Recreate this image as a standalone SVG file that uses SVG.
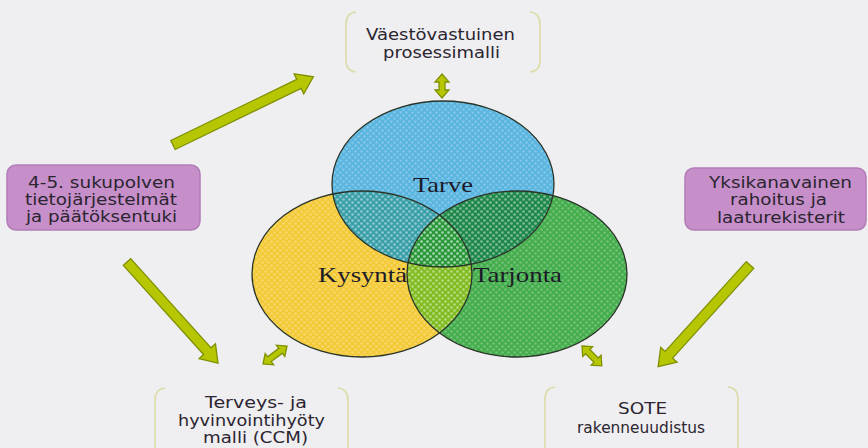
<svg xmlns="http://www.w3.org/2000/svg" width="868" height="448" viewBox="0 0 868 448">
<defs>
<style>
.lbl{font-family:"DejaVu Sans","Verdana",sans-serif;font-size:15px;fill:#2b2530;text-anchor:start}
.venn{font-family:"Liberation Serif","Times New Roman",serif;font-size:21px;fill:#1c1a28}
.box{fill:#c68fc9;stroke:#b27cb6;stroke-width:1.5}
.brk{fill:none;stroke:#dcdcaa;stroke-width:1.6}
.arr{fill:#b6c603;stroke:#7f9000;stroke-width:1.3;stroke-linejoin:miter}
.outl{fill:none;stroke:#2a3528;stroke-width:1.3}
</style>
<clipPath id="cB"><ellipse cx="443" cy="184" rx="111" ry="83"/></clipPath>
<clipPath id="cY"><ellipse cx="362" cy="274" rx="110" ry="83"/></clipPath>
<clipPath id="cG"><ellipse cx="517" cy="274" rx="110" ry="83"/></clipPath>
<pattern id="dots" width="6" height="6" patternUnits="userSpaceOnUse">
<circle cx="1.5" cy="1.5" r="1.3" fill="#ffffff" fill-opacity="0.25"/>
<circle cx="4.5" cy="4.5" r="1.3" fill="#ffffff" fill-opacity="0.25"/>
</pattern>
</defs>
<rect x="0" y="0" width="868" height="448" fill="#efeef0"/>

<g id="venn">
<ellipse cx="362" cy="274" rx="110" ry="83" fill="#f4ca38"/>
<ellipse cx="517" cy="274" rx="110" ry="83" fill="#44ad4c"/>
<ellipse cx="443" cy="184" rx="111" ry="83" fill="#5ab5e0"/>
<g clip-path="url(#cY)"><ellipse cx="443" cy="184" rx="111" ry="83" fill="#389ea8"/></g>
<g clip-path="url(#cY)"><ellipse cx="517" cy="274" rx="110" ry="83" fill="#80bc20"/></g>
<g clip-path="url(#cB)"><ellipse cx="517" cy="274" rx="110" ry="83" fill="#1d8849"/></g>
<g clip-path="url(#cY)"><g clip-path="url(#cB)"><ellipse cx="517" cy="274" rx="110" ry="83" fill="#289839"/></g></g>
<ellipse cx="362" cy="274" rx="110" ry="83" fill="url(#dots)"/>
<ellipse cx="517" cy="274" rx="110" ry="83" fill="url(#dots)"/>
<ellipse cx="443" cy="184" rx="111" ry="83" fill="url(#dots)"/>
<ellipse class="outl" cx="362" cy="274" rx="110" ry="83"/>
<ellipse class="outl" cx="517" cy="274" rx="110" ry="83"/>
<ellipse class="outl" cx="443" cy="184" rx="111" ry="83"/>
<text class="venn" x="413" y="192" textLength="60" lengthAdjust="spacingAndGlyphs">Tarve</text>
<text class="venn" x="318" y="282" textLength="89" lengthAdjust="spacingAndGlyphs">Kysyntä</text>
<text class="venn" x="473" y="282" textLength="89" lengthAdjust="spacingAndGlyphs">Tarjonta</text>
</g>

<g id="node-vaesto">
<path class="brk" d="M356 12 Q346 13 346 24 L346 61 Q346 71 356 72"/>
<path class="brk" d="M530 12 Q540 13 540 24 L540 61 Q540 71 530 72"/>
<text class="lbl" x="366" y="40" textLength="149" lengthAdjust="spacingAndGlyphs">Väestövastuinen</text>
<text class="lbl" x="383" y="58" textLength="117" lengthAdjust="spacingAndGlyphs">prosessimalli</text>
</g>

<g id="node-sukupolven">
<rect class="box" x="7" y="165" width="193" height="65" rx="9"/>
<text class="lbl" x="28" y="188" textLength="147" lengthAdjust="spacingAndGlyphs">4-5. sukupolven</text>
<text class="lbl" x="25" y="205" textLength="152" lengthAdjust="spacingAndGlyphs">tietojärjestelmät</text>
<text class="lbl" x="26" y="222" textLength="151" lengthAdjust="spacingAndGlyphs">ja päätöksentuki</text>
</g>

<g id="node-yksikanava">
<rect class="box" x="685" y="168" width="181" height="62" rx="9"/>
<text class="lbl" x="709" y="188" textLength="143" lengthAdjust="spacingAndGlyphs">Yksikanavainen</text>
<text class="lbl" x="730" y="205" textLength="97" lengthAdjust="spacingAndGlyphs">rahoitus ja</text>
<text class="lbl" x="717" y="223" textLength="128" lengthAdjust="spacingAndGlyphs">laaturekisterit</text>
</g>

<g id="node-terveys">
<path class="brk" d="M165 388 Q155 389 155 400 L155 450"/>
<path class="brk" d="M338 388 Q348 389 348 400 L348 450"/>
<text class="lbl" x="205" y="408" textLength="102" lengthAdjust="spacingAndGlyphs">Terveys- ja</text>
<text class="lbl" x="178" y="426" textLength="147" lengthAdjust="spacingAndGlyphs">hyvinvointihyöty</text>
<text class="lbl" x="203" y="443" textLength="105" lengthAdjust="spacingAndGlyphs">malli (CCM)</text>
</g>

<g id="node-sote">
<path class="brk" d="M555 387 Q545 388 545 399 L545 450"/>
<path class="brk" d="M728 387 Q738 388 738 399 L738 450"/>
<text class="lbl" x="618" y="414" textLength="49" lengthAdjust="spacingAndGlyphs">SOTE</text>
<text class="lbl" x="577" y="433" textLength="128" lengthAdjust="spacingAndGlyphs">rakenneuudistus</text>
</g>

<g id="connectors">
<polygon class="arr" transform="translate(173,145) rotate(-25.9)" points="0,-5 140,-5 140,-11 156,0 140,11 140,5 0,5"/>
<polygon class="arr" transform="translate(127,262) rotate(48)" points="0,-5 120,-5 120,-11 136,0 120,11 120,5 0,5"/>
<polygon class="arr" transform="translate(750,265) rotate(132.1)" points="0,-5 121,-5 121,-11 137,0 121,11 121,5 0,5"/>
<polygon class="arr" transform="translate(442,74) rotate(90)" points="0,0 8,-7 8,-3 16,-3 16,-7 24,0 16,7 16,3 8,3 8,7"/>
<polygon class="arr" transform="translate(263,364) rotate(-36.9)" points="0,0 8,-7 8,-3 22,-3 22,-7 30,0 22,7 22,3 8,3 8,7"/>
<polygon class="arr" transform="translate(582,346) rotate(45)" points="0,0 8,-7 8,-3 20,-3 20,-7 28,0 20,7 20,3 8,3 8,7"/>
</g>
</svg>
